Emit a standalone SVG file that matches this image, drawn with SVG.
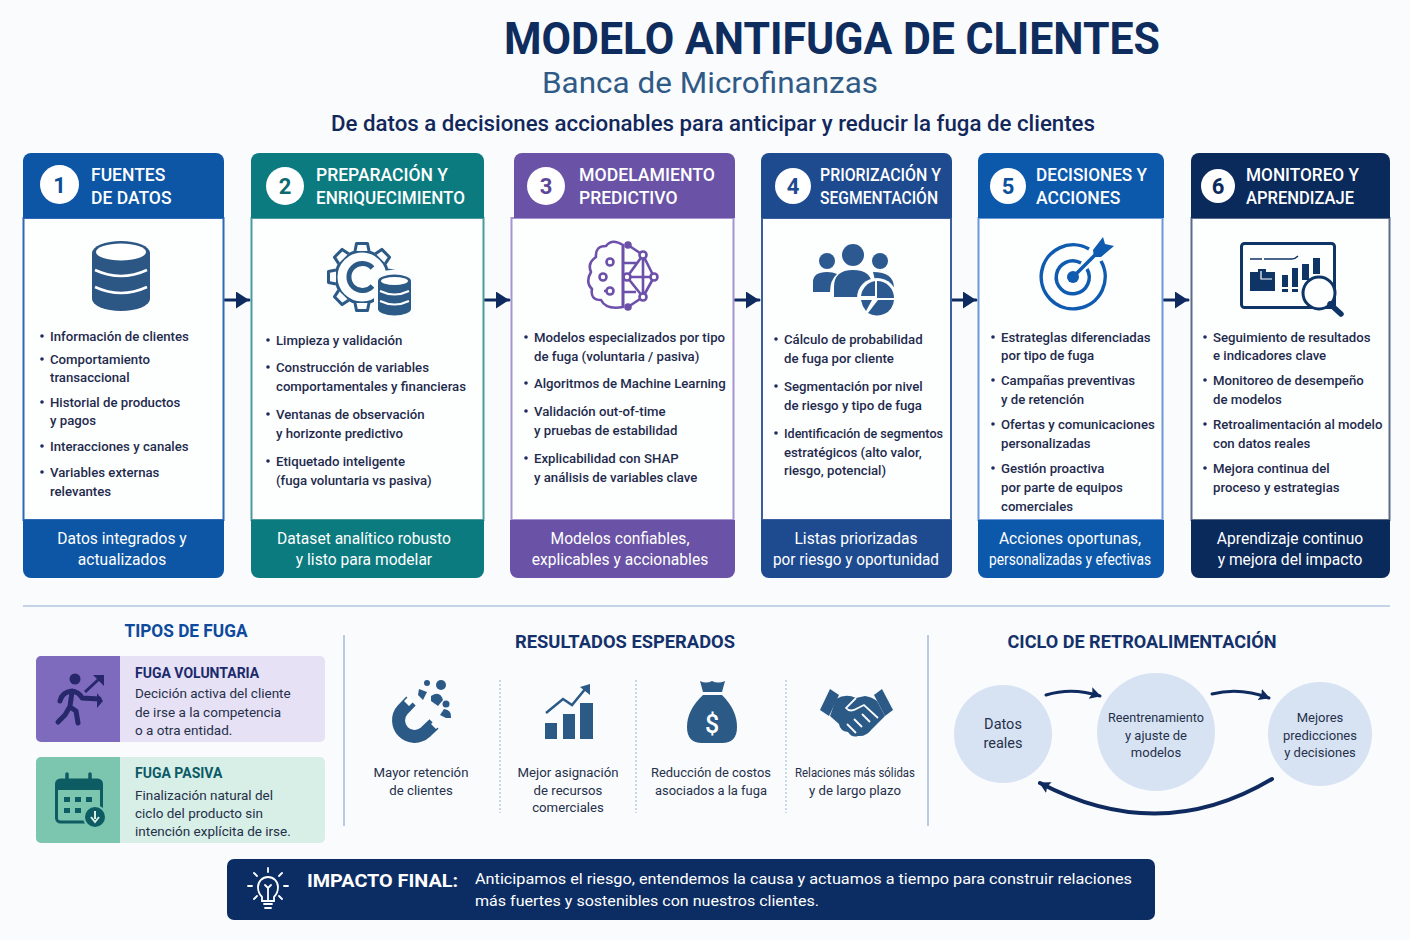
<svg xmlns="http://www.w3.org/2000/svg" xmlns:xlink="http://www.w3.org/1999/xlink" width="1410" height="940" viewBox="0 0 1410 940">
<style>
text{font-family:Roboto,"Noto Sans","Liberation Sans",sans-serif}
.h{font-size:17.500px;font-weight:500;fill:#fff}
.n{font-size:22px;font-weight:700;text-anchor:middle}
.b{font-size:13.200px;font-weight:500;fill:#1f2b4d}
.f{font-size:15.600px;fill:#fff;text-anchor:middle}
.sec{font-size:18px;font-weight:700;text-anchor:middle;fill:#14316b}
.ft{font-size:14px;font-weight:700}
.fb{font-size:13.500px;fill:#26304a}
.r{font-size:13.200px;fill:#26304a;text-anchor:middle}
.c{font-size:13px;fill:#26304a;text-anchor:middle}
.dot{fill:#1f2b5d}
.line{fill:none;stroke:#0f2a5e;stroke-linecap:round}
.div{stroke:#8fabd2;stroke-width:1.200}
.dash{stroke:#a9bfdc;stroke-width:1.200;stroke-dasharray:2 2}
</style>
<defs>
<marker id="ah" markerUnits="userSpaceOnUse" markerWidth="14" markerHeight="18" refX="13" refY="8.500" orient="auto"><path d="M0 0L13 8.500L0 17Z" fill="#0f2a5e"/></marker>
<marker id="ac" markerUnits="userSpaceOnUse" markerWidth="14" markerHeight="14" refX="10" refY="6" orient="auto"><path d="M0 0L11 6L0 12L2 6Z" fill="#0f2a5e"/></marker>
<path id="tooth" d="M-7-26L-5.500-33.500H5.500L7-26" fill="#fbfcfe" stroke="#2c5a86" stroke-width="3" stroke-linejoin="round"/>
</defs>
<rect width="1410" height="940" fill="#f9fbfd"/>

<g id="titulo">
<text x="504" y="54" font-size="44" font-weight="700" fill="#0e2c5e" textLength="656" lengthAdjust="spacingAndGlyphs">MODELO ANTIFUGA DE CLIENTES</text>
<text x="542" y="93" font-size="29" fill="#2f5a86" textLength="336" lengthAdjust="spacingAndGlyphs">Banca de Microfinanzas</text>
<text x="331" y="131" font-size="21.500" font-weight="500" fill="#12275a" textLength="764" lengthAdjust="spacingAndGlyphs">De datos a decisiones accionables para anticipar y reducir la fuga de clientes</text>
</g>

<g id="connectors">
<path class="line" d="M225 300H249" stroke-width="3" marker-end="url(#ah)"/>
<path class="line" d="M485 300H509" stroke-width="3" marker-end="url(#ah)"/>
<path class="line" d="M735 300H759" stroke-width="3" marker-end="url(#ah)"/>
<path class="line" d="M952 300H976" stroke-width="3" marker-end="url(#ah)"/>
<path class="line" d="M1164 300H1188" stroke-width="3" marker-end="url(#ah)"/>
<path class="line" d="M1046 695Q1072 687 1100 696" stroke-width="3" marker-end="url(#ac)"/>
<path class="line" d="M1212 694Q1240 687 1269 698" stroke-width="3" marker-end="url(#ac)"/>
<path class="line" d="M1272 779Q1160 846 1040 783" stroke-width="4" marker-end="url(#ac)"/>
</g>

<g id="etapa-1">
<rect x="23.500" y="218" width="200" height="302" fill="#fdfefe" stroke="#2f68b5" stroke-width="2"/>
<path d="M23 161a8 8 0 0 1 8-8H216a8 8 0 0 1 8 8V218H23Z" fill="#0d56a6"/>
<path d="M23 520H224V570a8 8 0 0 1-8 8H31a8 8 0 0 1-8-8Z" fill="#0d56a6"/>
<circle cx="59.500" cy="184.500" r="19.500" fill="#fff"/>
<text class="n" x="59.500" y="192.500" fill="#0d4c96">1</text>
<text class="h" x="91" y="181">FUENTES</text><text class="h" x="91" y="204">DE DATOS</text>
<path d="M92 253a29 12 0 0 1 58 0v46a29 12 0 0 1-58 0Z" fill="#2c5784"/>
<ellipse cx="121" cy="252" rx="25" ry="8.500" fill="#fff"/>
<path d="M95 270q26 12 52 0M95 287q26 12 52 0" fill="none" stroke="#fff" stroke-width="2.500"/>
<circle class="dot" cx="42" cy="336" r="1.800"/><text class="b" x="50" y="341">Información de clientes</text>
<circle class="dot" cx="42" cy="359" r="1.800"/><text class="b" x="50" y="364">Comportamiento</text><text class="b" x="50" y="382">transaccional</text>
<circle class="dot" cx="42" cy="402" r="1.800"/><text class="b" x="50" y="407">Historial de productos</text><text class="b" x="50" y="425">y pagos</text>
<circle class="dot" cx="42" cy="446" r="1.800"/><text class="b" x="50" y="451">Interacciones y canales</text>
<circle class="dot" cx="42" cy="472" r="1.800"/><text class="b" x="50" y="477">Variables externas</text><text class="b" x="50" y="496">relevantes</text>
<text class="f" x="122" y="544">Datos integrados y</text><text class="f" x="122" y="565">actualizados</text>
</g>

<g id="etapa-2">
<rect x="251.500" y="218" width="232" height="302" fill="#fdfefe" stroke="#4a9ba0" stroke-width="2"/>
<path d="M251 161a8 8 0 0 1 8-8H476a8 8 0 0 1 8 8V218H251Z" fill="#0b7b80"/>
<path d="M251 520H484V570a8 8 0 0 1-8 8H259a8 8 0 0 1-8-8Z" fill="#0b7b80"/>
<circle cx="285" cy="186" r="19" fill="#fff"/>
<text class="n" x="285" y="194" fill="#0b6a70">2</text>
<text class="h" x="316" y="181" textLength="132" lengthAdjust="spacingAndGlyphs">PREPARACIÓN Y</text><text class="h" x="316" y="204" textLength="149" lengthAdjust="spacingAndGlyphs">ENRIQUECIMIENTO</text>
<g transform="translate(362 277)">
<circle r="26" fill="none" stroke="#2c5a86" stroke-width="3"/>
<use xlink:href="#tooth" href="#tooth"/><use xlink:href="#tooth" href="#tooth" transform="rotate(45)"/><use xlink:href="#tooth" href="#tooth" transform="rotate(90)"/><use xlink:href="#tooth" href="#tooth" transform="rotate(135)"/><use xlink:href="#tooth" href="#tooth" transform="rotate(180)"/><use xlink:href="#tooth" href="#tooth" transform="rotate(225)"/><use xlink:href="#tooth" href="#tooth" transform="rotate(270)"/><use xlink:href="#tooth" href="#tooth" transform="rotate(315)"/>
<path d="M10.500-9A13.500 13.500 0 1 0 10.500 9" fill="none" stroke="#2c5a86" stroke-width="5"/>
</g>
<path d="M374 279a20 9 0 0 1 41 0V312a20 9 0 0 1-41 0Z" fill="#fbfcfe"/>
<path d="M378 281a16.500 6.500 0 0 1 33 0V309a16.500 6.500 0 0 1-33 0Z" fill="#2c5a86"/>
<ellipse cx="394.500" cy="281" rx="13.500" ry="4" fill="#fff"/>
<path d="M380 291q14.500 7 29 0M380 301q14.500 7 29 0" fill="none" stroke="#fff" stroke-width="2"/>
<circle class="dot" cx="268" cy="340" r="1.800"/><text class="b" x="276" y="345">Limpieza y validación</text>
<circle class="dot" cx="268" cy="367" r="1.800"/><text class="b" x="276" y="372">Construcción de variables</text><text class="b" x="276" y="391">comportamentales y financieras</text>
<circle class="dot" cx="268" cy="414" r="1.800"/><text class="b" x="276" y="419">Ventanas de observación</text><text class="b" x="276" y="438">y horizonte predictivo</text>
<circle class="dot" cx="268" cy="461" r="1.800"/><text class="b" x="276" y="466">Etiquetado inteligente</text><text class="b" x="276" y="485">(fuga voluntaria vs pasiva)</text>
<text class="f" x="364" y="544">Dataset analítico robusto</text><text class="f" x="364" y="565">y listo para modelar</text>
</g>

<g id="etapa-3">
<rect x="511.500" y="218" width="222" height="302" fill="#fdfefe" stroke="#a593d2" stroke-width="2"/>
<path d="M514 161a8 8 0 0 1 8-8H727a8 8 0 0 1 8 8V218H514Z" fill="#6a53a6"/>
<path d="M510 520H735V570a8 8 0 0 1-8 8H518a8 8 0 0 1-8-8Z" fill="#6a53a6"/>
<circle cx="546" cy="186" r="19" fill="#fff"/>
<text class="n" x="546" y="194" fill="#5d4799">3</text>
<text class="h" x="579" y="181" textLength="136" lengthAdjust="spacingAndGlyphs">MODELAMIENTO</text><text class="h" x="579" y="204">PREDICTIVO</text>
<g fill="none" stroke="#6c50aa" stroke-width="2.600" stroke-linejoin="round">
<path d="M623 245Q612 238 606 246Q595 246 596 257Q587 263 591 272Q585 282 592 289Q590 300 601 300Q606 310 623 307Z"/>
<path d="M623 246V307M628 245L643 255L654 277L643 297L628 307M627 277H654M643 255L627 277L643 297M643 255V297M623 263H638M623 292H636"/>
<circle cx="610" cy="262" r="3.500"/><circle cx="603" cy="277" r="3.500"/><circle cx="610" cy="291" r="3.500"/>
<path d="M606 291H604"/>
</g>
<g fill="#fdfefe" stroke="#6c50aa" stroke-width="2.600">
<circle cx="643" cy="255" r="3.500"/><circle cx="654" cy="277" r="3.500"/><circle cx="643" cy="297" r="3.500"/><circle cx="627" cy="277" r="3.500"/>
<circle cx="628" cy="245" r="2.500" fill="#6c50aa"/><circle cx="628" cy="307" r="2.500" fill="#6c50aa"/>
</g>
<circle class="dot" cx="526" cy="337" r="1.800"/><text class="b" x="534" y="342">Modelos especializados por tipo</text><text class="b" x="534" y="361">de fuga (voluntaria / pasiva)</text>
<circle class="dot" cx="526" cy="383" r="1.800"/><text class="b" x="534" y="388">Algoritmos de Machine Learning</text>
<circle class="dot" cx="526" cy="411" r="1.800"/><text class="b" x="534" y="416">Validación out-of-time</text><text class="b" x="534" y="435">y pruebas de estabilidad</text>
<circle class="dot" cx="526" cy="458" r="1.800"/><text class="b" x="534" y="463">Explicabilidad con SHAP</text><text class="b" x="534" y="482">y análisis de variables clave</text>
<text class="f" x="620" y="544">Modelos confiables,</text><text class="f" x="620" y="565">explicables y accionables</text>
</g>

<g id="etapa-4">
<rect x="762" y="218" width="189" height="302" fill="#fdfefe" stroke="#3a5f9f" stroke-width="2"/>
<path d="M761 161a8 8 0 0 1 8-8H944a8 8 0 0 1 8 8V218H761Z" fill="#1e4a90"/>
<path d="M761 520H952V570a8 8 0 0 1-8 8H769a8 8 0 0 1-8-8Z" fill="#1e4a90"/>
<circle cx="793" cy="186" r="18" fill="#fff"/>
<text class="n" x="793" y="194" fill="#1e4a90">4</text>
<text class="h" x="820" y="181" textLength="121" lengthAdjust="spacingAndGlyphs">PRIORIZACIÓN Y</text><text class="h" x="820" y="204" textLength="118" lengthAdjust="spacingAndGlyphs">SEGMENTACIÓN</text>
<g fill="#2c5a90">
<circle cx="827" cy="261" r="8"/><circle cx="853" cy="255" r="11"/><circle cx="880" cy="261" r="8"/>
<path d="M813 292V282Q813 272 827 272Q833 272 837 274Q830 280 830 292Z"/>
<path d="M834 297V287Q834 270 853 270Q872 270 872 286Q862 288 860 297Z"/>
<path d="M873 272Q894 272 894 288Q886 280 875 280Z"/>
</g>
<circle cx="877" cy="298" r="20" fill="#fdfefe"/>
<path d="M877 281A17 17 0 0 1 894 298H877Z" fill="#2c5a90"/>
<path d="M875 281A17 17 0 0 0 861 296H875Z" fill="#2c5a90"/>
<path d="M861 300H872L866 311Q862 306 861 300Z" fill="#2c5a90"/>
<path d="M878 300H894A17 17 0 0 1 868 313Z" fill="#2c5a90"/>
<circle class="dot" cx="776" cy="339" r="1.800"/><text class="b" x="784" y="344">Cálculo de probabilidad</text><text class="b" x="784" y="363">de fuga por cliente</text>
<circle class="dot" cx="776" cy="386" r="1.800"/><text class="b" x="784" y="391">Segmentación por nivel</text><text class="b" x="784" y="410">de riesgo y tipo de fuga</text>
<circle class="dot" cx="776" cy="433" r="1.800"/><text class="b" x="784" y="438" textLength="159" lengthAdjust="spacingAndGlyphs">Identificación de segmentos</text><text class="b" x="784" y="457">estratégicos (alto valor,</text><text class="b" x="784" y="475">riesgo, potencial)</text>
<text class="f" x="856" y="544">Listas priorizadas</text><text class="f" x="856" y="565" textLength="166" lengthAdjust="spacingAndGlyphs">por riesgo y oportunidad</text>
</g>

<g id="etapa-5">
<rect x="978.500" y="218" width="184" height="302" fill="#fdfefe" stroke="#6f97d8" stroke-width="2"/>
<path d="M978 161a8 8 0 0 1 8-8H1156a8 8 0 0 1 8 8V218H978Z" fill="#0c58ab"/>
<path d="M978 520H1164V570a8 8 0 0 1-8 8H986a8 8 0 0 1-8-8Z" fill="#0c58ab"/>
<circle cx="1008" cy="186" r="18" fill="#fff"/>
<text class="n" x="1008" y="194" fill="#0c4f9a">5</text>
<text class="h" x="1036" y="181" textLength="111" lengthAdjust="spacingAndGlyphs">DECISIONES Y</text><text class="h" x="1036" y="204">ACCIONES</text>
<g fill="none" stroke="#0f5bb0" stroke-linecap="butt">
<path d="M1089 249A32 32 0 1 0 1101 261" stroke-width="3.500"/>
<path d="M1081 263A16.500 16.500 0 1 0 1087 269" stroke-width="3.500"/>
<path d="M1073 277L1098 252" stroke-width="3.500"/>
</g>
<circle cx="1073" cy="277" r="6" fill="#0f5bb0"/>
<path d="M1093 250L1103 237L1105 244L1114 246L1101 257L1094 257Z" fill="#0f5bb0"/>
<circle class="dot" cx="993" cy="337" r="1.800"/><text class="b" x="1001" y="342">Estrateglas diferenciadas</text><text class="b" x="1001" y="360">por tipo de fuga</text>
<circle class="dot" cx="993" cy="380" r="1.800"/><text class="b" x="1001" y="385">Campañas preventivas</text><text class="b" x="1001" y="404">y de retención</text>
<circle class="dot" cx="993" cy="424" r="1.800"/><text class="b" x="1001" y="429">Ofertas y comunicaciones</text><text class="b" x="1001" y="448">personalizadas</text>
<circle class="dot" cx="993" cy="468" r="1.800"/><text class="b" x="1001" y="473">Gestión proactiva</text><text class="b" x="1001" y="492">por parte de equipos</text><text class="b" x="1001" y="511">comerciales</text>
<text class="f" x="1070" y="544">Acciones oportunas,</text><text class="f" x="1070" y="565" textLength="162" lengthAdjust="spacingAndGlyphs">personalizadas y efectivas</text>
</g>

<g id="etapa-6">
<rect x="1191.500" y="218" width="198" height="302" fill="#fdfefe" stroke="#5c6b8c" stroke-width="2"/>
<path d="M1191 161a8 8 0 0 1 8-8H1382a8 8 0 0 1 8 8V218H1191Z" fill="#0b2a5c"/>
<path d="M1191 520H1390V570a8 8 0 0 1-8 8H1199a8 8 0 0 1-8-8Z" fill="#0b2a5c"/>
<circle cx="1218" cy="186" r="17" fill="#fff"/>
<text class="n" x="1218" y="194" fill="#0b2a5c">6</text>
<text class="h" x="1246" y="181" textLength="113" lengthAdjust="spacingAndGlyphs">MONITOREO Y</text><text class="h" x="1246" y="204" textLength="108" lengthAdjust="spacingAndGlyphs">APRENDIZAJE</text>
<rect x="1241.500" y="243.500" width="93" height="64" rx="3" fill="none" stroke="#0f3566" stroke-width="3"/>
<path d="M1250 259H1262M1264 259H1292Q1295 259 1298 256" fill="none" stroke="#0f3566" stroke-width="1.500"/>
<path d="M1250 272H1258V269H1266V272H1275V291H1250Z" fill="#0f3566"/>
<path d="M1261 271V279H1272" fill="none" stroke="#fff" stroke-width="1.200"/>
<g fill="#0f3566"><rect x="1282" y="275" width="6" height="12"/><rect x="1282" y="289" width="6" height="3"/><rect x="1292" y="268" width="6" height="19"/><rect x="1292" y="289" width="6" height="3"/><rect x="1302" y="264" width="7" height="16"/><rect x="1313" y="258" width="7" height="16"/></g>
<circle cx="1319" cy="293" r="16" fill="#fdfefe" stroke="#0f3566" stroke-width="3"/>
<path d="M1330 304L1341 314" stroke="#0f3566" stroke-width="5.500" stroke-linecap="round"/>
<circle class="dot" cx="1205" cy="337" r="1.800"/><text class="b" x="1213" y="342">Seguimiento de resultados</text><text class="b" x="1213" y="360">e indicadores clave</text>
<circle class="dot" cx="1205" cy="380" r="1.800"/><text class="b" x="1213" y="385">Monitoreo de desempeño</text><text class="b" x="1213" y="404">de modelos</text>
<circle class="dot" cx="1205" cy="424" r="1.800"/><text class="b" x="1213" y="429">Retroalimentación al modelo</text><text class="b" x="1213" y="448">con datos reales</text>
<circle class="dot" cx="1205" cy="468" r="1.800"/><text class="b" x="1213" y="473">Mejora continua del</text><text class="b" x="1213" y="492">proceso y estrategias</text>
<text class="f" x="1290" y="544">Aprendizaje continuo</text><text class="f" x="1290" y="565">y mejora del impacto</text>
</g>

<g id="divisores">
<path class="div" d="M23 606H1390M344 635V826M928 635V826"/>
<path class="dash" d="M500 680V813M636 680V813M786 680V813"/>
</g>

<g id="tipos-de-fuga">
<text class="sec" x="186" y="637" style="fill:#0d4a9e" textLength="123" lengthAdjust="spacingAndGlyphs">TIPOS DE FUGA</text>
<rect x="36" y="656" width="289" height="86" rx="5" fill="#e7e1f5"/>
<path d="M120 656H41a5 5 0 0 0-5 5V737a5 5 0 0 0 5 5H120Z" fill="#7f6bbd"/>
<circle cx="75" cy="679" r="5.500" fill="#27276b"/>
<path d="M72 692L70 706M60 701Q62 692 72 691Q79 692 82 698L99 699M70 707L76 711L78 723M69 708L65 715L58 722" fill="none" stroke="#27276b" stroke-width="5" stroke-linecap="round" stroke-linejoin="round"/>
<path d="M85 692L99 679" stroke="#27276b" stroke-width="3"/>
<path d="M93 675H104V686Z" fill="#27276b"/>
<path d="M97 693L103 701L97 708Z" fill="#27276b"/>
<text class="ft" x="135" y="678" fill="#1b2a6b">FUGA VOLUNTARIA</text>
<text class="fb" x="135" y="698">Decición activa del cliente</text><text class="fb" x="135" y="717">de irse a la competencia</text><text class="fb" x="135" y="735">o a otra entidad.</text>
<rect x="36" y="757" width="289" height="86" rx="5" fill="#d7efe6"/>
<path d="M120 757H41a5 5 0 0 0-5 5V838a5 5 0 0 0 5 5H120Z" fill="#7cc5ae"/>
<rect x="56.500" y="780" width="45" height="42" rx="4" fill="none" stroke="#0d5c63" stroke-width="3"/>
<path d="M56 786a6 6 0 0 1 6-7H96a6 6 0 0 1 6 7V790H56Z" fill="#0d5c63"/>
<path d="M67 774V782M90 774V782" stroke="#0d5c63" stroke-width="3.500" stroke-linecap="round"/>
<g fill="#0d5c63"><rect x="64" y="797" width="6" height="5"/><rect x="75" y="797" width="6" height="5"/><rect x="86" y="797" width="6" height="5"/><rect x="64" y="808" width="6" height="5"/><rect x="75" y="808" width="6" height="5"/></g>
<circle cx="95" cy="817" r="11" fill="#0d5c63" stroke="#7cc5ae" stroke-width="2"/>
<path d="M95 811V819M91 817L95 822L99 817" fill="none" stroke="#d7efe6" stroke-width="2"/>
<text class="ft" x="135" y="778" fill="#0b5a66">FUGA PASIVA</text>
<text class="fb" x="135" y="800">Finalización natural del</text><text class="fb" x="135" y="818">ciclo del producto sin</text><text class="fb" x="135" y="836">intención explícita de irse.</text>
</g>

<g id="resultados-esperados">
<text class="sec" x="625" y="648" textLength="220" lengthAdjust="spacingAndGlyphs">RESULTADOS ESPERADOS</text>
<g id="resultado-retencion">
<path d="M411 701L402.700 709.700A16 16 0 0 0 425.300 732.300L434 724" fill="none" stroke="#2c5a86" stroke-width="13"/>
<path d="M407 697L412 702L407 707L402 702ZM434 720L439 725L434 730L429 725Z" fill="#fff" transform="translate(2 -1)"/>
<g fill="#2c5a86"><circle cx="427" cy="683" r="3"/><circle cx="441" cy="685" r="5"/><circle cx="446" cy="704" r="3.500"/><path d="M419 689L427 692L423 700L418 695Z"/><path d="M431 696Q440 690 443 700L438 706L431 701Z"/><path d="M440 715L444 709Q452 710 451 718L446 718Z"/></g>
<text class="r" x="421" y="777">Mayor retención</text><text class="r" x="421" y="795">de clientes</text>
</g>
<g id="resultado-asignacion">
<g fill="#2c5a86"><rect x="545" y="723" width="12" height="16"/><rect x="563" y="714" width="12" height="25"/><rect x="580" y="703" width="13" height="36"/></g>
<path d="M546 713L563 699L572 705L586 688" fill="none" stroke="#2c5a86" stroke-width="2.500"/>
<path d="M580 687L590 684L590 695Z" fill="#2c5a86"/>
<text class="r" x="568" y="777">Mejor asignación</text><text class="r" x="568" y="795">de recursos</text><text class="r" x="568" y="812">comerciales</text>
</g>
<g id="resultado-costos">
<path d="M700 681Q706 684 712 681Q718 684 725 681L722 692H703Z" fill="#2c5a86"/>
<path d="M703 695H722Q737 710 737 727Q737 743 722 743H702Q687 743 687 727Q687 710 703 695Z" fill="#2c5a86"/>
<text x="712" y="733" font-size="25" font-weight="500" fill="#fff" text-anchor="middle">$</text>
<text class="r" x="711" y="777" textLength="120" lengthAdjust="spacingAndGlyphs">Reducción de costos</text><text class="r" x="711" y="795" textLength="112" lengthAdjust="spacingAndGlyphs">asociados a la fuga</text>
</g>
<g id="resultado-relaciones">
<g fill="#2c5a86">
<path d="M820 710L830 689L839 695L829 716Z"/><path d="M893 710L882 689L874 695L885 716Z"/>
<path d="M836 699Q846 693 856 698L865 696Q872 697 877 701L885 716L872 729Q866 737 858 736Q852 738 848 732Q840 731 839 724L830 716Z"/>
</g>
<path d="M856 698L846 708Q850 713 858 708L864 705L878 718M862 727L854 719M856 733L847 724M870 722L862 714" fill="none" stroke="#f9fbfd" stroke-width="1.800"/>
<text class="r" x="855" y="777" textLength="120" lengthAdjust="spacingAndGlyphs">Relaciones más sólidas</text><text class="r" x="855" y="795">y de largo plazo</text>
</g>
</g>

<g id="ciclo-titulo"><text class="sec" x="1142" y="648" textLength="269" lengthAdjust="spacingAndGlyphs">CICLO DE RETROALIMENTACIÓN</text></g>
<g id="ciclo-datos"><circle cx="1003" cy="734" r="49" fill="#d7e3f3"/><text class="c" style="font-size:14.500px" x="1003" y="729">Datos</text><text class="c" style="font-size:14.500px" x="1003" y="748">reales</text></g>
<g id="ciclo-reentrenamiento"><circle cx="1156" cy="732" r="59" fill="#d7e3f3"/><text class="c" x="1156" y="722" textLength="96" lengthAdjust="spacingAndGlyphs">Reentrenamiento</text><text class="c" x="1156" y="740">y ajuste de</text><text class="c" x="1156" y="757">modelos</text></g>
<g id="ciclo-mejores"><circle cx="1320" cy="734" r="52" fill="#d7e3f3"/><text class="c" x="1320" y="722">Mejores</text><text class="c" x="1320" y="740">predicciones</text><text class="c" x="1320" y="757">y decisiones</text></g>

<g id="impacto-final">
<rect x="227" y="859" width="928" height="61" rx="7" fill="#0c2d63"/>
<g fill="none" stroke="#fff" stroke-width="1.800" stroke-linecap="round">
<path d="M262 897Q258 893 258 887A10 10 0 0 1 278 887Q278 893 274 897V901H262Z"/>
<path d="M264 904H272M265 908H271M268 901V888M265 885L268 888L271 885"/>
<path d="M268 868V872M254 873L257 876M282 873L279 876M248 886H252M284 886H288M254 899L257 896M282 899L279 896"/>
</g>
<text x="307" y="887" font-size="18.500" font-weight="700" fill="#fff" textLength="151" lengthAdjust="spacingAndGlyphs">IMPACTO FINAL:</text>
<text x="475" y="884" font-size="15.500" fill="#fff" textLength="657" lengthAdjust="spacingAndGlyphs">Anticipamos el riesgo, entendemos la causa y actuamos a tiempo para construir relaciones</text>
<text x="475" y="906" font-size="15.500" fill="#fff" textLength="344" lengthAdjust="spacingAndGlyphs">más fuertes y sostenibles con nuestros clientes.</text>
</g>
</svg>
